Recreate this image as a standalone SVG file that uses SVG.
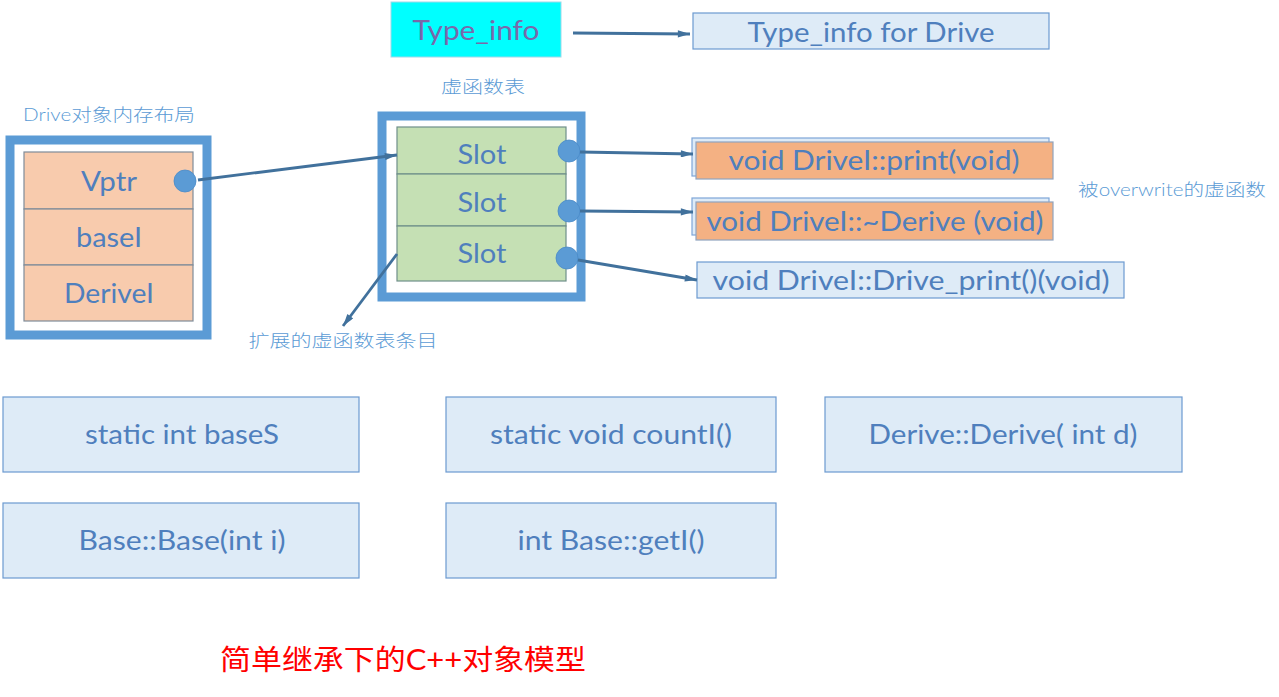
<svg xmlns="http://www.w3.org/2000/svg" width="1279" height="697" viewBox="0 0 1279 697">
<style>
  .t { font-family: Lato, "Liberation Sans", "Noto Sans CJK SC", sans-serif; fill: #4F7FBD; text-anchor: middle; }
  .big { font-size: 26px; font-weight: 400; }
  .small { font-size: 17px; fill: #5B9BD5; font-weight: 300; }
  .lbox { fill: #DEEBF7; stroke: #6C9AD0; stroke-width: 1.2; }
  .cell { fill: #F8CBAD; stroke: #7F8C99; stroke-width: 1.2; }
  .slot { fill: #C5E0B4; stroke: #6F8F8A; stroke-width: 1.2; }
  .frame { fill: #FFFFFF; stroke: #5B9BD5; stroke-width: 9; }
  .dot { fill: #5B9BD5; stroke: #4A8AC8; stroke-width: 0.8; }
  .orange { fill: #F4B183; stroke: #8FA3BE; stroke-width: 1.2; }
  .back { fill: #DEEBF7; stroke: #7EA6D8; stroke-width: 1.2; }
  .conn { stroke: #41719C; stroke-width: 2.8; fill: none; }
</style>
<defs>
  <marker id="arr" viewBox="0 0 10 6" refX="10" refY="3" markerWidth="6" markerHeight="2.6" orient="auto" markerUnits="strokeWidth">
    <path d="M0,0 L10,3 L0,6 Z" fill="#41719C"/>
  </marker>
</defs>
<rect width="1279" height="697" fill="#FFFFFF"/>

<g id="type-info">
  <rect x="391" y="2" width="170" height="55" fill="#00FFFF" stroke="#9FD8E8" stroke-width="1"/>
  <text class="t big" x="476" y="40" style="fill:#7A68AA" textLength="127" lengthAdjust="spacingAndGlyphs">Type_info</text>
</g>
<g id="type-info-drive">
  <rect class="lbox" x="693" y="13" width="356" height="36"/>
  <text class="t big" x="871" y="42" textLength="247" lengthAdjust="spacingAndGlyphs">Type_info for Drive</text>
</g>

<g id="vtbl-label">
  <text class="t small" x="483" y="93" textLength="84" lengthAdjust="spacingAndGlyphs">虚函数表</text>
</g>

<g id="drive-layout">
  <text class="t small" x="109" y="121" textLength="172" lengthAdjust="spacingAndGlyphs">Drive对象内存布局</text>
  <rect class="frame" x="10" y="140" width="197" height="195" stroke-width="10"/>
  <rect class="cell" x="24" y="152" width="169" height="57"/>
  <rect class="cell" x="24" y="209" width="169" height="56"/>
  <rect class="cell" x="24" y="265" width="169" height="56"/>
  <text class="t big" x="109" y="191" textLength="56" lengthAdjust="spacingAndGlyphs">Vptr</text>
  <text class="t big" x="109" y="247" textLength="66" lengthAdjust="spacingAndGlyphs">baseI</text>
  <text class="t big" x="109" y="303" textLength="90" lengthAdjust="spacingAndGlyphs">DeriveI</text>
  <circle class="dot" cx="185" cy="181" r="11"/>
</g>

<g id="vtable">
  <rect class="frame" x="382" y="116" width="199" height="181"/>
  <rect class="slot" x="397" y="127" width="169" height="47"/>
  <rect class="slot" x="397" y="174" width="169" height="52"/>
  <rect class="slot" x="397" y="226" width="169" height="55"/>
  <text class="t big" x="482" y="164" textLength="49" lengthAdjust="spacingAndGlyphs">Slot</text>
  <text class="t big" x="482" y="212" textLength="49" lengthAdjust="spacingAndGlyphs">Slot</text>
  <text class="t big" x="482" y="263" textLength="49" lengthAdjust="spacingAndGlyphs">Slot</text>
  <circle class="dot" cx="569" cy="151" r="11"/>
  <circle class="dot" cx="569" cy="211" r="11"/>
  <circle class="dot" cx="567" cy="258" r="11"/>
</g>

<g id="ext-label">
  <text class="t small" x="343" y="347" textLength="189" lengthAdjust="spacingAndGlyphs">扩展的虚函数表条目</text>
</g>

<g id="fn-print">
  <rect class="back" x="692" y="138" width="357" height="38"/>
  <rect class="orange" x="696" y="142" width="357" height="37"/>
  <text class="t big" x="874" y="170" textLength="291" lengthAdjust="spacingAndGlyphs">void DriveI::print(void)</text>
</g>
<g id="fn-dtor">
  <rect class="back" x="692" y="198" width="357" height="37"/>
  <rect class="orange" x="696" y="202" width="357" height="38"/>
  <text class="t big" x="875" y="231" textLength="337" lengthAdjust="spacingAndGlyphs">void DriveI::~Derive (void)</text>
</g>
<g id="fn-drive-print">
  <rect class="lbox" x="697" y="262" width="427" height="36"/>
  <text class="t big" x="911" y="290" textLength="397" lengthAdjust="spacingAndGlyphs">void DriveI::Drive_print()(void)</text>
</g>

<g id="overwrite-label">
  <text class="t small" x="1172" y="196" textLength="188" lengthAdjust="spacingAndGlyphs">被overwrite的虚函数</text>
</g>

<g id="static-baseS">
  <rect class="lbox" x="3" y="397" width="356" height="75"/>
  <text class="t big" x="182" y="444" textLength="194" lengthAdjust="spacingAndGlyphs">static int baseS</text>
</g>
<g id="static-countI">
  <rect class="lbox" x="446" y="397" width="330" height="75"/>
  <text class="t big" x="611" y="444" textLength="242" lengthAdjust="spacingAndGlyphs">static void countI()</text>
</g>
<g id="derive-ctor">
  <rect class="lbox" x="825" y="397" width="357" height="75"/>
  <text class="t big" x="1003" y="444" textLength="269" lengthAdjust="spacingAndGlyphs">Derive::Derive( int d)</text>
</g>
<g id="base-ctor">
  <rect class="lbox" x="3" y="503" width="356" height="75"/>
  <text class="t big" x="182" y="550" textLength="207" lengthAdjust="spacingAndGlyphs">Base::Base(int i)</text>
</g>
<g id="base-getI">
  <rect class="lbox" x="446" y="503" width="330" height="75"/>
  <text class="t big" x="611" y="550" textLength="187" lengthAdjust="spacingAndGlyphs">int Base::getI()</text>
</g>

<g id="title">
  <text class="t" x="403" y="670" style="fill:#FF0000;font-size:28px" textLength="366" lengthAdjust="spacingAndGlyphs">简单继承下的C++对象模型</text>
</g>

<g id="connectors">
  <line class="conn" x1="573" y1="33" x2="690" y2="34" marker-end="url(#arr)"/>
  <line class="conn" x1="198" y1="180" x2="397" y2="155" marker-end="url(#arr)"/>
  <line class="conn" x1="580" y1="152" x2="693" y2="154" marker-end="url(#arr)"/>
  <line class="conn" x1="580" y1="211" x2="693" y2="212" marker-end="url(#arr)"/>
  <line class="conn" x1="578" y1="260" x2="697" y2="280" marker-end="url(#arr)"/>
  <line class="conn" x1="397" y1="254" x2="343" y2="326" marker-end="url(#arr)"/>
</g>
</svg>
